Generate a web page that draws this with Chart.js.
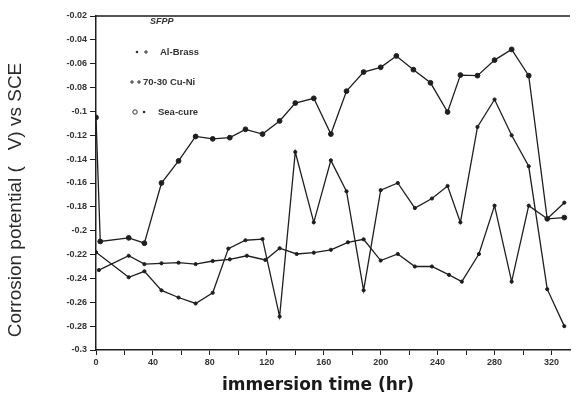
<!DOCTYPE html>
<html>
<head>
<meta charset="utf-8">
<script src="https://cdn.jsdelivr.net/npm/chart.js@4/dist/chart.umd.min.js"></script>
<style>
  html, body { margin: 0; padding: 0; background: #fff; }
  #wrap { width: 576px; height: 403px; }
</style>
</head>
<body>
<div id="wrap"><canvas id="c" width="576" height="403"></canvas></div>
<script>
// ---- data ----
const seriesNames = ['Al-Brass', '70-30 Cu-Ni', 'Sea-cure'];
const chartTitle = 'SFPP';
const xTitle = 'immersion time (hr)';
const yTitle = 'Corrosion potential (   V) vs SCE';

const hoursAlBrass = [2, 23, 34, 46, 58, 70, 82, 94, 106, 119, 129, 141, 153, 165, 177, 188, 200, 212, 224, 236, 248, 257, 269, 280, 292, 304, 317, 329];
const alBrass = [-0.233, -0.221, -0.228, -0.2273, -0.2268, -0.228, -0.2254, -0.224, -0.221, -0.2245, -0.2147, -0.2195, -0.2184, -0.216, -0.2097, -0.2072, -0.225, -0.2195, -0.230, -0.230, -0.237, -0.2427, -0.2195, -0.179, -0.2427, -0.179, -0.190, -0.1765];

const hoursCuNi = [0, 23, 34, 46, 58, 70, 82, 93, 105, 117, 129, 140, 153, 165, 176, 188, 200, 212, 224, 236, 247, 256, 268, 280, 292, 304, 317, 329];
const cuNi = [-0.218, -0.239, -0.234, -0.250, -0.256, -0.261, -0.252, -0.215, -0.208, -0.207, -0.272, -0.134, -0.193, -0.141, -0.167, -0.250, -0.166, -0.160, -0.181, -0.173, -0.1625, -0.193, -0.113, -0.090, -0.120, -0.146, -0.249, -0.280];

const hoursSeaCure = [0, 3, 23, 34, 46, 58, 70, 82, 94, 105, 117, 129, 140, 153, 165, 176, 188, 200, 211, 223, 235, 247, 256, 268, 280, 292, 304, 317, 329];
const seaCure = [-0.105, -0.209, -0.206, -0.2105, -0.160, -0.1415, -0.121, -0.123, -0.122, -0.115, -0.119, -0.108, -0.093, -0.089, -0.119, -0.083, -0.067, -0.063, -0.0535, -0.065, -0.076, -0.1005, -0.0695, -0.070, -0.057, -0.048, -0.070, -0.190, -0.189];

const xMin = 0, xMax = 333, xStep = 20, xLabelEvery = 40, xLastTick = 320;
const yMin = -0.3, yMax = -0.02, yStep = 0.02;

function pts(xs, ys) { return xs.map((x, i) => ({ x: x, y: ys[i] })); }

const ink = '#1e1e1e';

const overlay = {
  id: 'overlay',
  afterDraw(chart) {
    const ctx = chart.ctx;
    const a = chart.chartArea;
    ctx.save();
    // top frame line
    ctx.strokeStyle = ink;
    ctx.lineWidth = 1.5;
    ctx.beginPath();
    ctx.moveTo(a.left, a.top);
    ctx.lineTo(a.right, a.top);
    ctx.stroke();

    // legend block
    ctx.fillStyle = '#333';
    ctx.font = 'italic bold 9px "Liberation Sans", Arial, sans-serif';
    ctx.textBaseline = 'middle';
    ctx.textAlign = 'left';
    ctx.fillText(chartTitle, a.left + 54, a.top + 6);

    ctx.font = 'bold 9.5px "Liberation Sans Narrow", "Liberation Sans", Arial, sans-serif';
    const rows = [
      { y: a.top + 36, text: seriesNames[0], tx: a.left + 64, marks: [[a.left + 41, 'dot'], [a.left + 50, 'plus']] },
      { y: a.top + 66, text: seriesNames[1], tx: a.left + 47, marks: [[a.left + 36, 'plus'], [a.left + 43, 'plus']] },
      { y: a.top + 96, text: seriesNames[2], tx: a.left + 62, marks: [[a.left + 39, 'circle'], [a.left + 48, 'dot']] }
    ];
    rows.forEach(r => {
      r.marks.forEach(m => {
        const [mx, kind] = m;
        ctx.fillStyle = '#333';
        ctx.strokeStyle = '#333';
        ctx.lineWidth = 1;
        if (kind === 'dot') {
          ctx.beginPath(); ctx.arc(mx, r.y, 1.3, 0, Math.PI * 2); ctx.fill();
        } else if (kind === 'plus') {
          ctx.beginPath();
          ctx.moveTo(mx - 2, r.y); ctx.lineTo(mx + 2, r.y);
          ctx.moveTo(mx, r.y - 2); ctx.lineTo(mx, r.y + 2);
          ctx.stroke();
        } else {
          ctx.beginPath(); ctx.arc(mx, r.y, 2.2, 0, Math.PI * 2); ctx.stroke();
        }
      });
      ctx.fillStyle = '#333';
      ctx.fillText(r.text, r.tx, r.y);
    });

    // axis titles
    ctx.fillStyle = '#2a2a2a';
    ctx.font = '19px "Liberation Sans", Arial, sans-serif';
    ctx.textAlign = 'center';
    ctx.textBaseline = 'middle';
    ctx.save();
    ctx.translate(16, 200);
    ctx.rotate(-Math.PI / 2);
    ctx.fillText(yTitle, 0, 0);
    ctx.restore();

    ctx.font = 'bold 17px "DejaVu Sans", "Liberation Sans", Arial, sans-serif';
    ctx.fillStyle = '#1a1a1a';
    ctx.fillText(xTitle, 318, 386);
    ctx.restore();
  }
};

function ds(label, data, radius, style) {
  return {
    label: label,
    data: data,
    showLine: true,
    borderColor: ink,
    backgroundColor: ink,
    borderWidth: 1.3,
    pointRadius: radius,
    pointStyle: style,
    pointBorderColor: ink,
    pointBackgroundColor: ink,
    pointBorderWidth: 1,
    tension: 0
  };
}

new Chart(document.getElementById('c'), {
  type: 'scatter',
  data: {
    datasets: [
      ds(seriesNames[0], pts(hoursAlBrass, alBrass), 1.6, 'circle'),
      ds(seriesNames[1], pts(hoursCuNi, cuNi), 1.6, 'circle'),
      ds(seriesNames[2], pts(hoursSeaCure, seaCure), 2.4, 'circle')
    ]
  },
  options: {
    responsive: false,
    animation: false,
    devicePixelRatio: 1,
    layout: { padding: { top: 16, right: 6, left: 0, bottom: 0 } },
    plugins: { legend: { display: false }, tooltip: { enabled: false }, title: { display: false } },
    scales: {
      x: {
        type: 'linear',
        min: xMin, max: xMax,
        afterBuildTicks: s => {
          const t = [];
          for (let v = xMin; v <= xLastTick; v += xStep) t.push({ value: v });
          s.ticks = t;
        },
        afterFit: s => { s.height = 53; },
        ticks: {
          stepSize: xStep,
          autoSkip: false,
          maxRotation: 0,
          padding: 2,
          color: '#333',
          font: { size: 9, weight: 'bold', family: '"Liberation Sans", Arial, sans-serif' },
          callback: v => (Math.abs(v % xLabelEvery) < 1e-6 ? String(v) : '')
        },
        grid: { display: true, drawOnChartArea: false, drawTicks: true, tickLength: 5, color: ink, lineWidth: 1 },
        border: { display: true, color: ink, width: 1.5 },
        title: { display: false }
      },
      y: {
        type: 'linear',
        min: yMin, max: yMax,
        afterFit: s => { s.width = 96; },
        ticks: {
          stepSize: yStep,
          autoSkip: false,
          padding: 3,
          color: '#333',
          font: { size: 9, weight: 'bold', family: '"Liberation Sans", Arial, sans-serif' },
          callback: v => String(Number(v.toFixed(2)))
        },
        grid: { display: true, drawOnChartArea: false, drawTicks: true, tickLength: 6, color: ink, lineWidth: 1 },
        border: { display: true, color: ink, width: 1.5 },
        title: { display: false }
      }
    }
  },
  plugins: [overlay]
});
</script>
</body>
</html>
